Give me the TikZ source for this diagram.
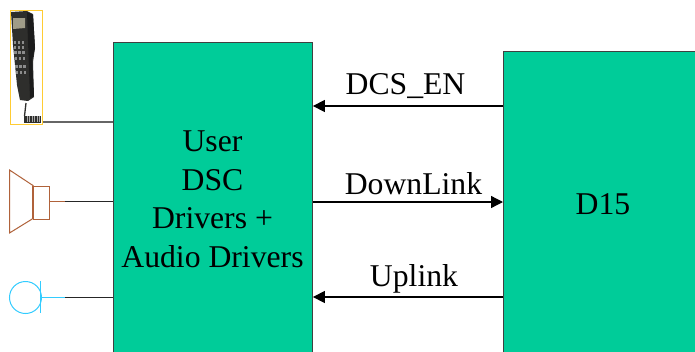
\documentclass[tikz,border=0pt]{standalone}
\usepackage{fontspec}
\setmainfont{Liberation Serif}
\usetikzlibrary{arrows.meta}
\definecolor{boxgreen}{HTML}{00CC99}
\definecolor{brownline}{HTML}{B0623A}
\definecolor{cyanline}{HTML}{33CCFF}
\definecolor{goldline}{HTML}{FFCC33}
\definecolor{phonedark}{HTML}{2E2E2C}
\definecolor{phonemid}{HTML}{1C1C1C}
\definecolor{phonescreen}{HTML}{A09C88}
\tikzset{
  block/.style={draw=black!75,line width=0.9pt,fill=boxgreen,anchor=north west,inner sep=0pt},
  lbl/.style={font=\fontsize{31.7}{32}\selectfont,inner sep=0pt,anchor=base},
  sig/.style={draw=black,line width=1.3pt,-{Triangle[length=12pt,width=12pt]},shorten >=0pt},
  wire/.style={draw=black!85,line width=1.1pt}
}
\begin{document}
\begin{tikzpicture}[x=1pt,y=-1pt]
\useasboundingbox (0,0) rectangle (695,351);
\clip (0,0) rectangle (695,351);
\fill[white] (0,0) rectangle (695,351);
% blocks
\node[block,minimum width=199pt,minimum height=330pt] (user) at (113,42) {};
\node[block,minimum width=210pt,minimum height=330pt] (dsp) at (503,51) {};
% block labels
\node[lbl] (t1) at (212.5,151.5) {User};
\node[lbl] (t2) at (212.5,190.5) {DSC};
\node[lbl] (t3) at (212.5,228.5) {Drivers +};
\node[lbl] (t4) at (212.5,267.5) {Audio Drivers};
\node[lbl] (t5) at (603,214) {D15};
% connector labels
\node[lbl] (l1) at (405.5,94) {DCS\_EN};
\node[lbl] (l2) at (413.5,194) {DownLink};
\node[lbl] (l3) at (414,286) {Uplink};
% arrows
\coordinate (a1) at (400,106);
\coordinate (a2) at (400,202);
\coordinate (a3) at (400,297);
\draw[sig] (dsp.west |- a1) -- (user.east |- a1);
\draw[sig] (user.east |- a2) -- (dsp.west |- a2);
\draw[sig] (dsp.west |- a3) -- (user.east |- a3);
% phone
\fill[phonedark] (11,12) -- (27,11) -- (33,14) -- (35,48) -- (33,62) -- (34,97) -- (28,101) -- (20,100) -- (17,85) -- (13,45) -- cycle;
\fill[phonemid] (27,12) -- (33,15) -- (35,48) -- (32,60) -- (34,96) -- (30,98) -- cycle;
\fill[phonescreen] (13,18) -- (25,18) -- (25,28) -- (13,29) -- cycle;
\foreach \x/\y in {13.5/41,17.5/41,21.5/41,13.5/46,17.5/46,21.5/46,14/51,18/51,22/51,14.5/57,18.5/57,22.5/57,15/65,19/65,23/65,15.5/71,19.5/71,23.5/71}
  \fill[black!45] (\x,\y) rectangle ++(2.5,2.5);
\draw[phonedark,line width=1.3pt] (26,103) -- (24.5,116);
\fill[phonedark] (24,115.5) rectangle (41,122.5);
\foreach \x in {27,29.5,...,40}
  \draw[black!35,line width=0.5pt] (\x,116) -- (\x,122);
\node[draw=goldline,line width=1pt,minimum width=32pt,minimum height=114pt,inner sep=0pt,anchor=north west] (phone) at (9.5,9.5) {};
\draw[draw=black!60,line width=1.6pt] (phone.east |- 0,122) -- (user.west |- 0,122);
% speaker
\draw[brownline,line width=1pt] (9.5,170) -- (33,185.5) -- (33,218.5) -- (9.5,233) -- cycle;
\draw[brownline,line width=1.4pt] (33,185.5) -- (33,218.5);
\node[draw=brownline,line width=1pt,minimum width=16pt,minimum height=33pt,inner sep=0pt,anchor=north west] (spk) at (33,185.5) {};
\coordinate (spkj) at (65,201.5);
\draw[brownline,line width=1pt] (spk.east |- spkj) -- (spkj);
\draw[wire] (spkj) -- (user.west |- spkj);
% microphone
\node[circle,draw=cyanline,line width=1pt,minimum size=32pt,inner sep=0pt] (mic) at (25.5,297.5) {};
\coordinate (micb) at (41,297.5);
\draw[cyanline,line width=1.4pt] (40.5,281) -- (40.5,313);
\coordinate (micj) at (65,297.5);
\draw[cyanline,line width=1pt] (micb) -- (micj);
\draw[wire] (micj) -- (user.west |- micj);
\end{tikzpicture}
\end{document}
